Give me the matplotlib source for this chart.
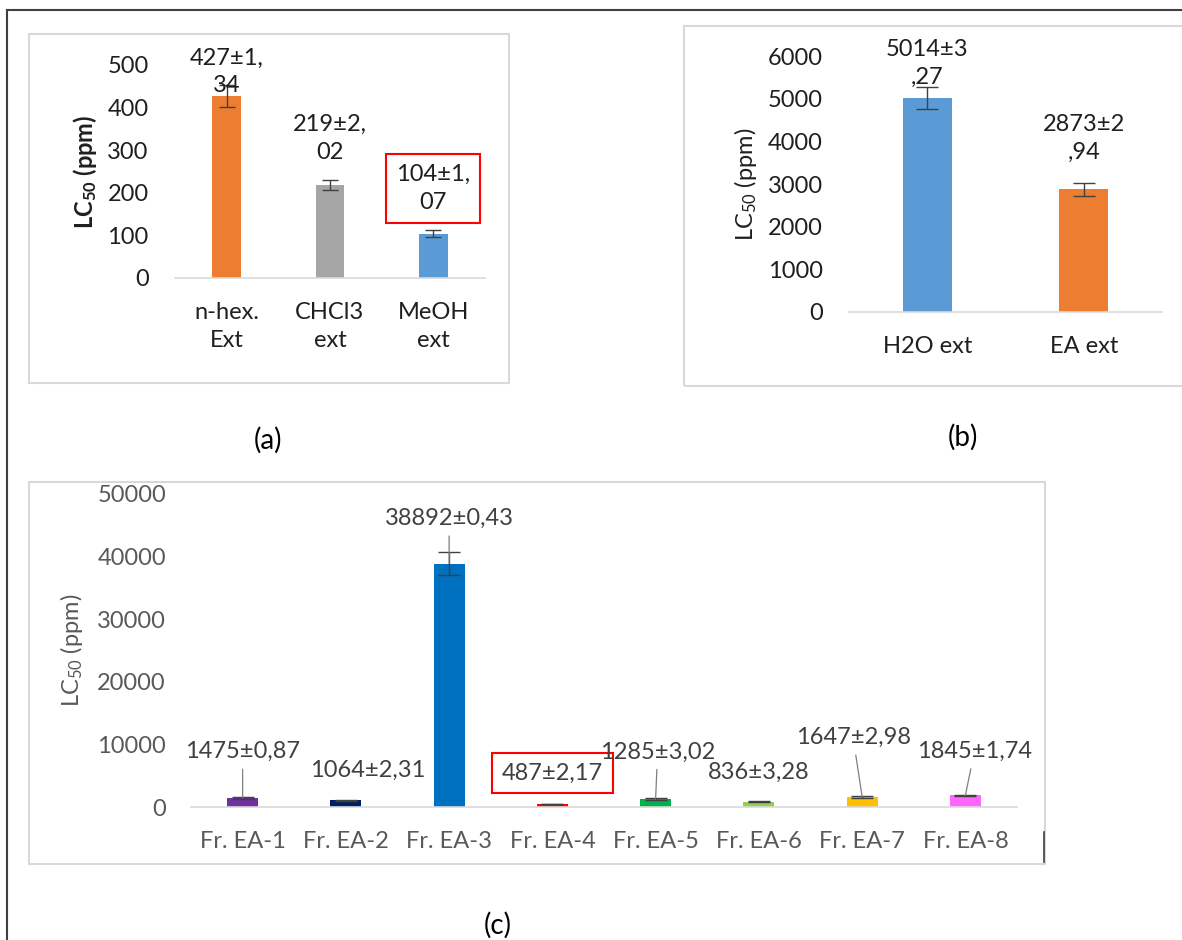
import matplotlib
matplotlib.use("Agg")
import matplotlib.pyplot as plt
from matplotlib.patches import Rectangle
from matplotlib.lines import Line2D

plt.rcParams['font.family'] = ['Lato', 'DejaVu Sans']
plt.rcParams['mathtext.fontset'] = 'custom'
plt.rcParams['mathtext.rm'] = 'Lato'
plt.rcParams['mathtext.it'] = 'Lato:italic'
plt.rcParams['mathtext.bf'] = 'Lato:bold'

# ---------------- data ----------------
a_categories = ["n-hex.\nExt", "CHCl3\next", "MeOH\next"]
a_values = [427, 219, 104]
a_errors = [25, 12, 8]
a_labels = ["427±1,\n34", "219±2,\n02", "104±1,\n07"]
a_colors = ["#ED7D31", "#A5A5A5", "#5B9BD5"]
a_yticks = [0, 100, 200, 300, 400, 500]

b_categories = ["H2O ext", "EA ext"]
b_values = [5014, 2873]
b_errors = [250, 150]
b_labels = ["5014±3\n,27", "2873±2\n,94"]
b_colors = ["#5B9BD5", "#ED7D31"]
b_yticks = [0, 1000, 2000, 3000, 4000, 5000, 6000]

c_categories = ["Fr. EA-1", "Fr. EA-2", "Fr. EA-3", "Fr. EA-4",
                "Fr. EA-5", "Fr. EA-6", "Fr. EA-7", "Fr. EA-8"]
c_values = [1475, 1064, 38892, 487, 1285, 836, 1647, 1845]
c_errors = [150, 120, 1900, 40, 150, 80, 150, 120]
c_labels = ["1475±0,87", "1064±2,31", "38892±0,43", "487±2,17",
            "1285±3,02", "836±3,28", "1647±2,98", "1845±1,74"]
c_colors = ["#7030A0", "#002060", "#0070C0", "#FF0000",
            "#00B050", "#92D050", "#FFC000", "#FF66FF"]
c_yticks = [0, 10000, 20000, 30000, 40000, 50000]

# ---------------- layout helpers ----------------
W, H = 1182, 940
fig = plt.figure(figsize=(W / 100, H / 100), dpi=100)
fig.patch.set_facecolor("white")


def rect(x0, x1, ytop, ybot):
    return [x0 / W, 1 - ybot / H, (x1 - x0) / W, (ybot - ytop) / H]


def fx(x):
    return x / W


def fy(y):
    return 1 - y / H


def frame(x0, x1, ytop, ybot, color="#D9D9D9", lw=1.5):
    fig.add_artist(Rectangle((fx(x0), fy(ybot)), (x1 - x0) / W, (ybot - ytop) / H,
                             transform=fig.transFigure, fill=False,
                             edgecolor=color, linewidth=lw))


def style_axes(ax, ticks, tickcolor, fs, xpad, ypad):
    for s in ("top", "right", "left"):
        ax.spines[s].set_visible(False)
    ax.spines["bottom"].set_color("#D9D9D9")
    ax.spines["bottom"].set_linewidth(1.2)
    ax.set_yticks(ticks)
    ax.tick_params(axis="both", length=0, labelsize=fs, colors=tickcolor)
    ax.tick_params(axis="y", pad=ypad)
    ax.tick_params(axis="x", pad=xpad)
    ax.patch.set_alpha(0)


# outer frame lines
fig.add_artist(Line2D([fx(7), fx(W)], [fy(10), fy(10)], transform=fig.transFigure,
                      color="#404040", lw=1.5))
fig.add_artist(Line2D([fx(7), fx(7)], [fy(10), fy(H)], transform=fig.transFigure,
                      color="#404040", lw=1.5))

# panel frames
frame(29, 509, 34, 383)
frame(684, 1190, 26, 386)
frame(29, 1045, 482, 864)
fig.add_artist(Line2D([fx(1044), fx(1044)], [fy(832), fy(862)], transform=fig.transFigure,
                      color="#404040", lw=1.2))

FS = 17
DARK = "#1F1F1F"
ERR = "#404040"

# ---------------- panel (a) ----------------
axa = fig.add_axes(rect(175, 485, 65, 278))
xa = range(len(a_values))
axa.bar(xa, a_values, width=0.28, color=a_colors, zorder=2)
axa.errorbar(xa, a_values, yerr=a_errors, fmt="none", ecolor=ERR, elinewidth=1,
             capsize=6, capthick=1, zorder=3)
axa.set_xlim(-0.5, len(a_values) - 0.5)
axa.set_ylim(0, 500)
axa.set_xticks(list(xa))
axa.set_xticklabels(a_categories, linespacing=1.45)
style_axes(axa, a_yticks, DARK, FS, 17, 19)
axa.text(-0.29, 0.5, r"LC$_{\mathbf{50}}$ (ppm)", transform=axa.transAxes, rotation=90,
         ha="center", va="center", fontsize=FS, fontweight="bold", color=DARK)
a_offsets = [24, 46, 45]
for i, (v, lab, off) in enumerate(zip(a_values, a_labels, a_offsets)):
    kw = {}
    if i == 2:
        kw["bbox"] = dict(boxstyle="square,pad=0.42", fc="none", ec="#FF0000", lw=1.5)
    axa.annotate(lab, xy=(i, v), xytext=(0, off), textcoords="offset pixels",
                 ha="center", va="center", fontsize=FS, color=DARK,
                 linespacing=1.4, annotation_clip=False, zorder=4, **kw)

# ---------------- panel (b) ----------------
axb = fig.add_axes(rect(849, 1162, 56, 312))
xb = range(len(b_values))
axb.bar(xb, b_values, width=0.31, color=b_colors, zorder=2)
axb.errorbar(xb, b_values, yerr=b_errors, fmt="none", ecolor=ERR, elinewidth=1,
             capsize=8, capthick=1, zorder=3)
axb.set_xlim(-0.5, len(b_values) - 0.5)
axb.set_ylim(0, 6000)
axb.set_xticks(list(xb))
axb.set_xticklabels(b_categories)
style_axes(axb, b_yticks, DARK, FS, 17, 19)
axb.text(-0.33, 0.5, r"LC$_{50}$ (ppm)", transform=axb.transAxes, rotation=90,
         ha="center", va="center", fontsize=FS, color=DARK)
b_offsets = [35, 51]
for i, (v, lab, off) in enumerate(zip(b_values, b_labels, b_offsets)):
    axb.annotate(lab, xy=(i, v), xytext=(0, off), textcoords="offset pixels",
                 ha="center", va="center", fontsize=FS, color=DARK,
                 linespacing=1.4, annotation_clip=False, zorder=4)

# ---------------- panel (c) ----------------
GRAY = "#595959"
LAB = "#404040"
axc = fig.add_axes(rect(191, 1017, 494, 807))
xc = range(len(c_values))
axc.bar(xc, c_values, width=0.30, color=c_colors, zorder=2)
axc.errorbar(xc, c_values, yerr=c_errors, fmt="none", ecolor=ERR, elinewidth=1,
             capsize=8, capthick=1, zorder=3)
axc.set_xlim(-0.5, len(c_values) - 0.5)
axc.set_ylim(0, 50000)
axc.set_xticks(list(xc))
axc.set_xticklabels(c_categories)
style_axes(axc, c_yticks, GRAY, FS, 17, 18)
axc.text(-0.145, 0.5, r"LC$_{50}$ (ppm)", transform=axc.transAxes, rotation=90,
         ha="center", va="center", fontsize=FS, color=GRAY)
c_offsets = [(0, 46), (22, 30), (0, 45), (0, 31), (2, 47), (0, 29), (-9, 59), (9, 44)]
c_leaders = [True, False, True, False, True, False, True, True]
for i, (v, lab, off, lead) in enumerate(zip(c_values, c_labels, c_offsets, c_leaders)):
    kw = {}
    if i == 3:
        kw["bbox"] = dict(boxstyle="square,pad=0.42", fc="none", ec="#FF0000", lw=1.5)
    if lead:
        kw["arrowprops"] = dict(arrowstyle="-", color="#7F7F7F", lw=0.9,
                                shrinkA=3, shrinkB=0)
    axc.annotate(lab, xy=(i, v), xytext=off, textcoords="offset pixels",
                 ha="center", va="center", fontsize=FS, color=LAB,
                 annotation_clip=False, zorder=4, **kw)

# ---------------- panel letters ----------------
fig.text(fx(268), fy(440), "(a)", ha="center", va="center", fontsize=20, color="#000000")
fig.text(fx(963), fy(437), "(b)", ha="center", va="center", fontsize=20, color="#000000")
fig.text(fx(498), fy(925), "(c)", ha="center", va="center", fontsize=20, color="#000000")

fig.savefig("out.png", dpi=100, facecolor="white")
